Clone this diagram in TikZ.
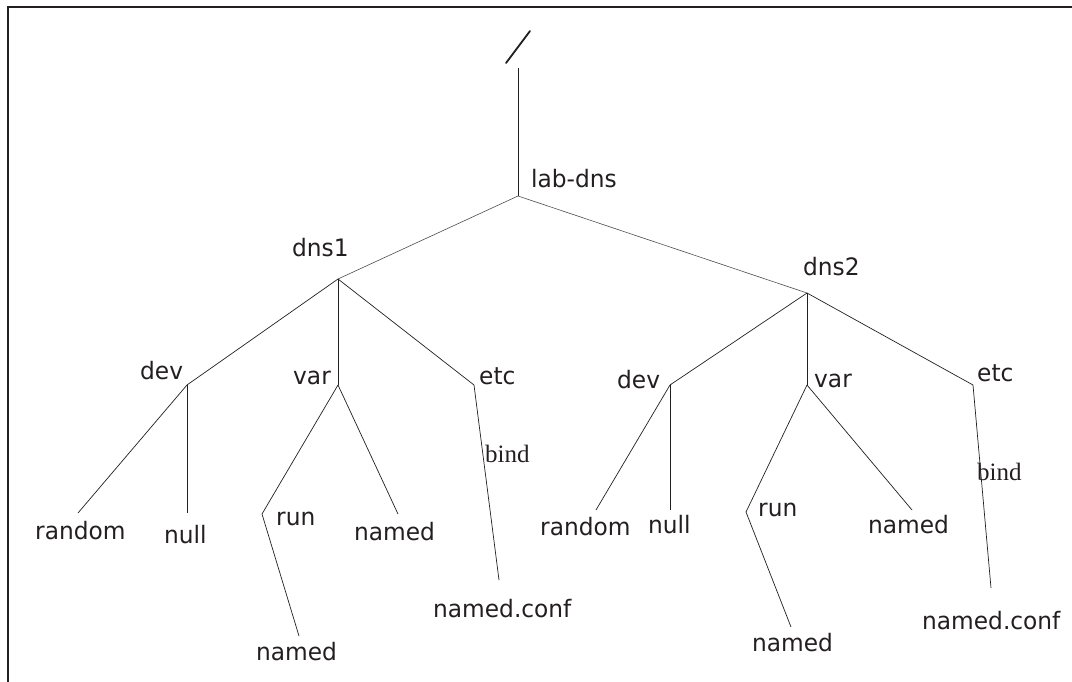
\documentclass[tikz,border=0pt]{standalone}
\usepackage{fontspec}
\setmainfont{DejaVu Sans}[FakeStretch=0.97]
\newfontfamily\bindfont{Liberation Serif}
\definecolor{ink}{HTML}{231F20}
\tikzset{
  dirname/.style={font=\fontsize{24}{28}\selectfont, text=ink, inner sep=0pt, anchor=base west},
  subname/.style={font=\bindfont\fontsize{25}{29}\selectfont, text=ink, inner sep=0pt, anchor=base west},
  branch/.style={draw=ink, line width=0.7pt},
  upper/.style={draw=ink!80, line width=0.6pt},
  trunk/.style={draw=ink, line width=1pt},
  frameline/.style={draw=ink, line width=1.3pt},
}
\begin{document}
\begin{tikzpicture}[x=1pt, y=-1pt]
  \useasboundingbox (0,0) rectangle (1072,682);
  % page frame (top and left edges)
  \coordinate (fbl) at (8,682);
  \coordinate (ftl) at (8,7);
  \coordinate (ftr) at (1072,7);
  \draw[frameline] (fbl) -- (ftl) -- (ftr);

  % root "/" mark
  \coordinate (rootlo) at (506,63);
  \coordinate (roothi) at (530,31);
  \draw[ink, line width=1.8pt, line cap=round] (rootlo) -- (roothi);

  % junction points
  \coordinate (top) at (518,68);
  \coordinate (J0) at (518,196);
  \coordinate (J1) at (338,279);
  \coordinate (J2) at (807,293);
  \coordinate (D1) at (187,385);
  \coordinate (V1) at (338,385);
  \coordinate (E1) at (474,385);
  \coordinate (E1b) at (499,580);
  \coordinate (R1) at (78,513);
  \coordinate (N1) at (187,513);
  \coordinate (K1) at (262,514);
  \coordinate (K1b) at (299,636);
  \coordinate (M1) at (398,514);
  \coordinate (D2) at (670,385);
  \coordinate (V2) at (807,385);
  \coordinate (E2) at (973,385);
  \coordinate (E2b) at (991,588);
  \coordinate (R2) at (596,510);
  \coordinate (N2) at (670,510);
  \coordinate (K2) at (746,512);
  \coordinate (K2b) at (791,627);
  \coordinate (M2) at (912,510);

  % labels
  \node[dirname] (labdns) at (531,188) {lab-dns};
  \node[dirname] (dnsone) at (292,256) {dns1};
  \node[dirname] (dnstwo) at (803,275) {dns2};

  \node[dirname] (devone) at (140,379) {dev};
  \node[dirname] (varone) at (293,384) {var};
  \node[dirname] (etcone) at (479,384) {etc};
  \node[subname] (bindone) at (485,462) {bind};
  \node[dirname] (randomone) at (35,539) {random};
  \node[dirname] (nullone) at (164,543) {null};
  \node[dirname] (runone) at (276,525) {run};
  \node[dirname] (namedone) at (354,540) {named};
  \node[dirname] (runnamedone) at (256,660) {named};
  \node[dirname] (confone) at (433,617) {named.conf};

  \node[dirname] (devtwo) at (617,388) {dev};
  \node[dirname] (vartwo) at (814,387) {var};
  \node[dirname] (etctwo) at (977,381) {etc};
  \node[subname] (bindtwo) at (977,480) {bind};
  \node[dirname] (randomtwo) at (540,535) {random};
  \node[dirname] (nulltwo) at (648,533) {null};
  \node[dirname] (runtwo) at (758,516) {run};
  \node[dirname] (namedtwo) at (868,533) {named};
  \node[dirname] (runnamedtwo) at (752,651) {named};
  \node[dirname] (conftwo) at (922,629) {named.conf};

  % tree branches
  \draw[trunk] (top) -- (J0);
  \draw[upper] (J0) -- (J1);
  \draw[upper] (J0) -- (J2);

  \draw[branch] (J1) -- (D1);
  \draw[branch] (J1) -- (V1);
  \draw[branch] (J1) -- (E1);
  \draw[branch] (E1) -- (E1b);
  \draw[branch] (D1) -- (R1);
  \draw[branch] (D1) -- (N1);
  \draw[branch] (V1) -- (K1) -- (K1b);
  \draw[branch] (V1) -- (M1);

  \draw[branch] (J2) -- (D2);
  \draw[branch] (J2) -- (V2);
  \draw[branch] (J2) -- (E2);
  \draw[branch] (E2) -- (E2b);
  \draw[branch] (D2) -- (R2);
  \draw[branch] (D2) -- (N2);
  \draw[branch] (V2) -- (K2) -- (K2b);
  \draw[branch] (V2) -- (M2);
\end{tikzpicture}
\end{document}
